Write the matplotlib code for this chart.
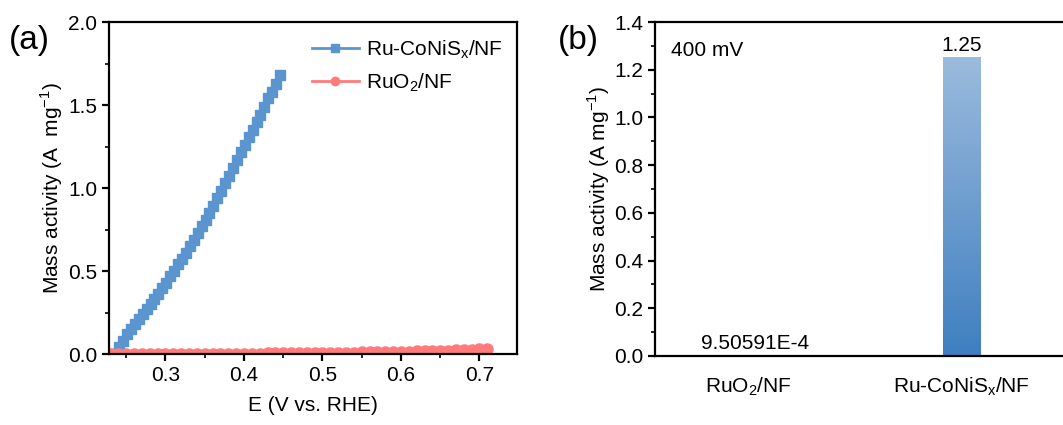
import numpy as np
import matplotlib
matplotlib.use("Agg")
import matplotlib.pyplot as plt
from matplotlib.colors import LinearSegmentedColormap

plt.rcParams["font.family"] = ["Liberation Sans", "DejaVu Sans"]
plt.rcParams["mathtext.fontset"] = "custom"
plt.rcParams["mathtext.rm"] = "Liberation Sans"
plt.rcParams["font.size"] = 15

# (a) mass activity vs potential
e_ru_conis = [0.236, 0.241, 0.246, 0.251, 0.256, 0.261, 0.266, 0.271, 0.276, 0.281,
              0.286, 0.291, 0.296, 0.301, 0.306, 0.311, 0.316, 0.321, 0.326, 0.331,
              0.336, 0.341, 0.346, 0.351, 0.356, 0.361, 0.366, 0.371, 0.376, 0.381,
              0.386, 0.391, 0.396, 0.401, 0.406, 0.411, 0.416, 0.421, 0.426, 0.431,
              0.436, 0.441, 0.446]
ma_ru_conis = [0.00, 0.04, 0.08, 0.12, 0.15, 0.18, 0.21, 0.24, 0.27, 0.30,
               0.33, 0.36, 0.40, 0.43, 0.47, 0.50, 0.54, 0.57, 0.61, 0.65,
               0.69, 0.73, 0.77, 0.81, 0.85, 0.89, 0.94, 0.98, 1.03, 1.07,
               1.12, 1.17, 1.22, 1.26, 1.31, 1.35, 1.40, 1.44, 1.49, 1.54,
               1.58, 1.63, 1.68]

e_ruo2 = [0.23, 0.24, 0.25, 0.26, 0.27, 0.28, 0.29, 0.30, 0.31, 0.32,
          0.33, 0.34, 0.35, 0.36, 0.37, 0.38, 0.39, 0.40, 0.41, 0.42,
          0.43, 0.44, 0.45, 0.46, 0.47, 0.48, 0.49, 0.50, 0.51, 0.52,
          0.53, 0.54, 0.55, 0.56, 0.57, 0.58, 0.59, 0.60, 0.61, 0.62,
          0.63, 0.64, 0.65, 0.66, 0.67, 0.68, 0.69, 0.70, 0.71]
ma_ruo2 = [0.000, 0.000, 0.000, 0.000, 0.001, 0.001, 0.001, 0.001, 0.001, 0.001,
           0.001, 0.002, 0.002, 0.002, 0.002, 0.002, 0.003, 0.003, 0.003, 0.003,
           0.004, 0.004, 0.004, 0.005, 0.005, 0.006, 0.006, 0.007, 0.007, 0.008,
           0.008, 0.009, 0.010, 0.010, 0.011, 0.012, 0.013, 0.014, 0.015, 0.016,
           0.017, 0.018, 0.020, 0.021, 0.023, 0.025, 0.027, 0.030, 0.033]

# (b) mass activity at 400 mV
samples = ["RuO$_\\mathregular{2}$/NF", "Ru-CoNiS$_\\mathregular{x}$/NF"]
mass_400 = [9.50591e-4, 1.25]
value_labels = ["9.50591E-4", "1.25"]

blue = "#5b95cf"
red = "#ff7b7b"

fig = plt.figure(figsize=(10.63, 4.25), dpi=100)

ax1 = fig.add_axes([0.1025, 0.167, 0.384, 0.781])
ax1.plot(e_ru_conis, ma_ru_conis, "-s", color=blue, ms=7.5, lw=2, label="Ru-CoNiS$_\\mathregular{x}$/NF")
ax1.plot(e_ruo2, ma_ruo2, "-o", color=red, ms=8, lw=2, label="RuO$_\\mathregular{2}$/NF")
ax1.set_xlim(0.228, 0.748)
ax1.set_ylim(0, 2.0)
ax1.set_xticks([0.3, 0.4, 0.5, 0.6, 0.7])
ax1.set_xticks(np.arange(0.25, 0.75, 0.05), minor=True)
ax1.set_yticks([0.0, 0.5, 1.0, 1.5, 2.0])
ax1.set_yticks(np.arange(0, 2.01, 0.25), minor=True)
ax1.set_xlabel("E (V vs. RHE)", labelpad=8)
ax1.set_ylabel("Mass activity (A  mg$^{\\mathregular{-1}}$)", labelpad=2)
ax1.legend(loc="upper right", frameon=False, handlelength=2.3, handletextpad=0.3,
           fontsize=15, borderaxespad=0.3, labelspacing=0.5, bbox_to_anchor=(1.0, 0.995),
           markerscale=0.75)
ax1.text(-0.245, 0.945, "(a)", transform=ax1.transAxes, fontsize=24, va="center", ha="left")

ax2 = fig.add_axes([0.616, 0.1624, 0.389, 0.7856])
x = np.arange(1, len(samples) + 1)
bars = ax2.bar(x, mass_400, width=0.175, color="none", edgecolor="none")
cmap = LinearSegmentedColormap.from_list("bluegrad", ["#3f7fc0", "#9bbbdd"])
grad = np.linspace(0, 1, 256).reshape(-1, 1)
for b in bars:
    x0, y0 = b.get_x(), b.get_y()
    w, h = b.get_width(), b.get_height()
    h_draw = max(h, 0.004)
    ax2.imshow(grad, cmap=cmap, origin="lower", aspect="auto",
               extent=(x0, x0 + w, y0, y0 + h_draw), zorder=2)
for xi, v, lab in zip(x, mass_400, value_labels):
    ax2.text(xi + 0.03 if v < 0.01 else xi, v + 0.012, lab, ha="center", va="bottom", fontsize=15)
ax2.set_xlim(0.56, 2.5)
ax2.set_ylim(0, 1.4)
ax2.set_xticks(x)
ax2.set_xticklabels(samples)
ax2.set_yticks(np.arange(0, 1.41, 0.2))
ax2.set_yticks(np.arange(0, 1.41, 0.1), minor=True)
ax2.set_ylabel("Mass activity (A mg$^{\\mathregular{-1}}$)", labelpad=1)
ax2.text(0.04, 0.915, "400 mV", transform=ax2.transAxes, fontsize=15, va="center")
ax2.text(-0.235, 0.945, "(b)", transform=ax2.transAxes, fontsize=24, va="center", ha="left")

for ax in (ax1, ax2):
    for s in ax.spines.values():
        s.set_linewidth(1.6)
    ax.tick_params(which="major", direction="out", length=5, width=1.6)
    ax.tick_params(which="minor", direction="out", length=3, width=1.2)
ax2.tick_params(axis="x", which="both", length=0, pad=14)

fig.savefig("out.png", dpi=100)
